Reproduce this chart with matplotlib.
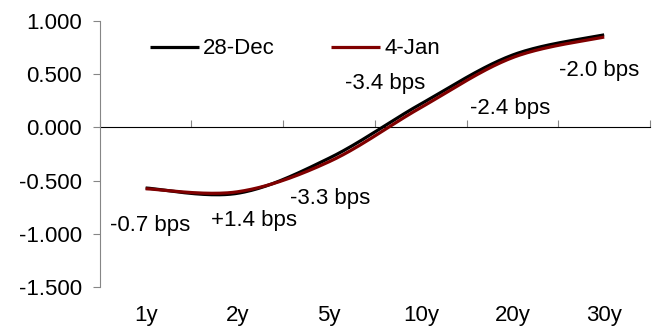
import matplotlib
matplotlib.use("Agg")
import matplotlib.pyplot as plt
import numpy as np

# curve data (yield, %) by tenor
tenors = ["1y", "2y", "5y", "10y", "20y", "30y"]
dec28 = [-0.570, -0.620, -0.290, 0.220, 0.680, 0.870]
chg_bps = [-0.7, 1.4, -3.3, -3.4, -2.4, -2.0]
jan4 = [d + c / 100 for d, c in zip(dec28, chg_bps)]
series_names = ["28-Dec", "4-Jan"]


def smooth(xs, ys, n=40):
    # Catmull-Rom style bezier smoothing, like a spreadsheet "smoothed line"
    P = np.column_stack([xs, ys]).astype(float)
    P = np.vstack([P[0], P, P[-1]])
    out = []
    t = np.linspace(0, 1, n)[:, None]
    for i in range(1, len(P) - 2):
        p0, p3 = P[i], P[i + 1]
        c1 = p0 + (P[i + 1] - P[i - 1]) / 6
        c2 = p3 - (P[i + 2] - P[i]) / 6
        seg = ((1 - t) ** 3) * p0 + 3 * ((1 - t) ** 2) * t * c1 \
            + 3 * (1 - t) * t ** 2 * c2 + t ** 3 * p3
        out.append(seg if i == 1 else seg[1:])
    out = np.vstack(out)
    return out[:, 0], out[:, 1]


FS = 16
plt.rcParams['font.family'] = ['Liberation Sans', 'DejaVu Sans']
fig = plt.figure(figsize=(6.52, 3.29), dpi=100)
ax = fig.add_axes([0.153, 0.128, 0.844, 0.808])

x = np.arange(len(tenors)) + 0.5
sx, sy = smooth(x, dec28)
ax.plot(sx, sy, color="black", lw=2.3, label=series_names[0], solid_capstyle="butt")
sx, sy = smooth(x, jan4)
ax.plot(sx, sy, color="#800000", lw=2.3, label=series_names[1], solid_capstyle="butt")

ymin, ymax = -1.5, 1.0
ax.set_xlim(0, len(tenors))
ax.set_ylim(ymin, ymax)

axis_col = "#868686"
ax.set_yticks(np.arange(-1.5, 1.01, 0.5))
ax.set_yticklabels([f"{v:.3f}" for v in np.arange(-1.5, 1.01, 0.5)])
ax.tick_params(axis="y", length=5, color=axis_col, labelsize=FS, pad=8)

# category labels along the bottom
ax.set_xticks([])
ax.set_xticks(x, minor=True)
ax.set_xticklabels(tenors, minor=True)
ax.tick_params(axis="x", which="minor", length=0, labelsize=FS, pad=13)

for s in ["top", "right", "bottom"]:
    ax.spines[s].set_visible(False)
ax.spines["left"].set_color(axis_col)

# category axis line crossing at zero
zero_pos = (0 - ymin) / (ymax - ymin)
sec = ax.secondary_xaxis(zero_pos)
sec.set_xticks(np.arange(0, len(tenors) + 1))
sec.set_xticklabels([])
sec.tick_params(length=5, color=axis_col, direction="out")
sec.spines["bottom"].set_color(axis_col)

# change labels, bps
label_pos = [(0.545, -0.92), (1.68, -0.88), (2.51, -0.665),
             (3.11, 0.41), (4.47, 0.18), (5.45, 0.535)]
for (lx, ly), c in zip(label_pos, chg_bps):
    ax.text(lx, ly, f"{c:+.1f} bps" if c > 0 else f"{c:.1f} bps",
            ha="center", va="center", fontsize=FS)

ax.legend(loc="upper left", bbox_to_anchor=(0.055, 1.01), ncol=2, frameon=False,
          fontsize=FS, handlelength=2.2, handletextpad=0.2, columnspacing=2.5)

fig.savefig("out.png", dpi=100)
